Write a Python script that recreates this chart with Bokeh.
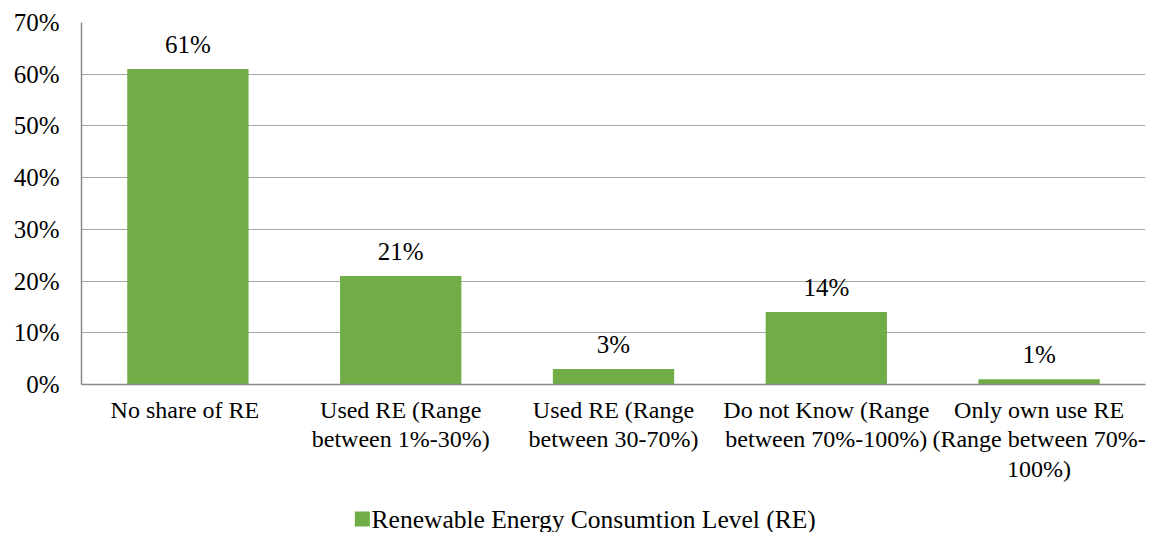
from bokeh.plotting import figure
from bokeh.layouts import column
from bokeh.models import (ColumnDataSource, FactorRange, Range1d, FixedTicker,
                          PrintfTickFormatter)
from bokeh.core.properties import value
from bokeh.embed import file_html
from bokeh.resources import INLINE

categories = [
    "No share of  RE",
    "Used RE (Range\nbetween 1%-30%)",
    "Used RE (Range\nbetween 30-70%)",
    "Do not Know (Range\nbetween 70%-100%)",
    "Only own use RE\n(Range between 70%-\n100%)",
]
values = [61, 21, 3, 14, 1]
y_ticks = [0, 10, 20, 30, 40, 50, 60, 70]
series_name = "Renewable Energy Consumtion Level (RE)"

FONT = "Liberation Serif"
GREEN = "#70AD47"
GRID = "#A6A6A6"

src = ColumnDataSource(dict(cat=categories, val=values,
                            lab=[f"{v}%" for v in values]))

p = figure(width=1148, height=494, x_range=FactorRange(*categories, range_padding=0),
           y_range=Range1d(0, 70), output_backend="svg", toolbar_location=None,
           min_border_left=81, min_border_right=3, min_border_top=22,
           min_border_bottom=110)

p.vbar(x="cat", top="val", width=0.57, source=src, fill_color=GREEN, line_color=None)
p.text(x="cat", y="val", text="lab", source=src, text_align="center",
       text_baseline="bottom", y_offset=-11, text_font=value(FONT),
       text_font_size="25px", text_color="#000000")

p.outline_line_color = None
p.xgrid.grid_line_color = None
p.ygrid.grid_line_color = GRID
p.ygrid.grid_line_width = 1
p.ygrid.ticker = FixedTicker(ticks=y_ticks)

p.yaxis.ticker = FixedTicker(ticks=y_ticks)
p.yaxis.formatter = PrintfTickFormatter(format="%d%%")
for ax in (p.xaxis[0], p.yaxis[0]):
    ax.axis_line_color = "#898989"
    ax.axis_line_width = 1.5
    ax.major_tick_line_color = None
    ax.minor_tick_line_color = None
    ax.major_label_text_font = FONT
    ax.major_label_text_color = "#000000"
p.yaxis.major_label_text_font_size = "25px"
p.xaxis.major_label_text_font_size = "24px"
p.yaxis.major_label_standoff = 16
p.xaxis.major_label_standoff = 6
p.xaxis.major_label_text_line_height = 1.15

# legend strip below the chart (pixel-like coordinates, no axes)
lg = figure(width=1148, height=38, x_range=Range1d(0, 1148), y_range=Range1d(0, 38),
            output_backend="svg", toolbar_location=None, min_border=0,
            x_axis_location=None, y_axis_location=None,
            outline_line_color=None)
lg.grid.visible = False
lg.scatter(x=[303], y=[13.5], marker="square", size=15, fill_color=GREEN,
           line_color=None)
lg.text(x=[313], y=[13.5], text=[series_name], text_align="left",
        text_baseline="middle", text_font=value(FONT), text_font_size="25.5px",
        text_color="#000000")

layout = column(p, lg, spacing=0)
open("out.html", "w").write(file_html(layout, INLINE))
